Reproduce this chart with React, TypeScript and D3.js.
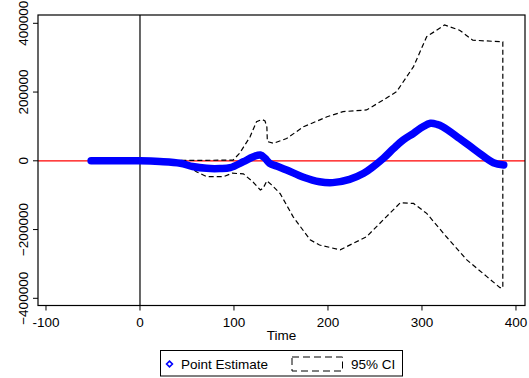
import React from "react";
import * as d3 from "d3";

const xTicks = [-100, 0, 100, 200, 300, 400];
const yTicks = [-400000, -200000, 0, 200000, 400000];

const peTime = [-52, 0, 21, 43, 56, 71, 85, 96, 110, 120, 128, 133, 138, 146, 156, 174, 191, 205, 223, 238, 248, 259, 270, 280, 291, 301, 309, 316, 322, 340, 359, 376, 387];
const peValue = [0, 0, -2000, -7000, -16500, -22000, -22500, -20000, -2600, 11000, 17000, 7300, -7300, -16000, -26800, -48000, -61000, -63500, -54000, -36400, -17200, 7300, 36400, 60500, 80000, 99200, 109000, 106000, 99000, 65000, 26500, -5500, -12000];

const upperTime = [44, 99, 106, 117, 124, 130, 133, 135, 135.5, 142, 156, 174, 199, 216, 241, 259, 273, 291, 305, 324, 340, 354, 386];
const upperValue = [1000, 2000, 22000, 69000, 114000, 120000, 116000, 98000, 56000, 51000, 65000, 99000, 128000, 143000, 148000, 177000, 201000, 274000, 361000, 395000, 380000, 351000, 346000];

const lowerTime = [44, 60, 71, 89, 98, 110, 120, 128, 131, 135, 140, 149, 163, 181, 191, 213, 241, 262, 277, 291, 305, 326, 348, 369, 383, 386];
const lowerValue = [-1000, -32000, -46000, -46000, -36000, -38000, -61000, -85000, -80000, -58000, -70000, -95000, -163000, -230000, -245000, -259000, -221000, -163000, -122000, -124000, -153000, -221000, -289000, -337000, -369000, -370000];

const legendLabels = ["Point Estimate", "95% CI"];
const xTitle = "Time";

const W = 529;
const H = 378;
const plot = { left: 38, right: 525, top: 15, bottom: 305.5 };
const font = "'Liberation Sans', Arial, Helvetica, sans-serif";
const fs = 13.5;

export default function App() {
  const x = d3.scaleLinear().domain([-108.5, 409.6]).range([plot.left, plot.right]);
  const y = d3.scaleLinear().domain([-420950, 424150]).range([plot.bottom, plot.top]);

  const pePts: [number, number][] = peTime.map((t, i) => [t, peValue[i]]);
  const ciPts: [number, number][] = [
    ...upperTime.map((t, i) => [t, upperValue[i]] as [number, number]),
    ...lowerTime.map((t, i) => [t, lowerValue[i]] as [number, number]).reverse(),
  ];

  const peLine = d3
    .line<[number, number]>()
    .x((d) => x(d[0]))
    .y((d) => y(d[1]))
    .curve(d3.curveCatmullRom.alpha(0.5));
  const ciLine = d3
    .line<[number, number]>()
    .x((d) => x(d[0]))
    .y((d) => y(d[1]));

  const diamond = d3.symbol().type(d3.symbolDiamond2).size(22)();

  return (
    <svg
      width={W}
      height={H}
      style={{ position: "absolute", left: 0, top: 0, background: "#fff" }}
      fontFamily={font}
    >
      <rect x={0} y={0} width={W} height={H} fill="#fff" />
      <line x1={plot.left} x2={plot.right} y1={y(0)} y2={y(0)} stroke="#ff0000" strokeWidth={1.3} />
      <line x1={x(0)} x2={x(0)} y1={plot.top} y2={plot.bottom} stroke="#000" strokeWidth={1.2} />
      <path d={ciLine(ciPts) || ""} fill="none" stroke="#000" strokeWidth={1.2} strokeDasharray="5,3" />
      <path
        d={peLine(pePts) || ""}
        fill="none"
        stroke="#0000ff"
        strokeWidth={7.5}
        strokeLinecap="round"
        strokeLinejoin="round"
      />
      <rect
        x={plot.left}
        y={plot.top}
        width={plot.right - plot.left}
        height={plot.bottom - plot.top}
        fill="none"
        stroke="#000"
        strokeWidth={1.2}
      />
      {yTicks.map((v) => (
        <g key={v}>
          <line x1={plot.left - 5} x2={plot.left} y1={y(v)} y2={y(v)} stroke="#000" strokeWidth={1} />
          <text
            transform={`translate(${plot.left - 10},${y(v)}) rotate(-90)`}
            textAnchor="middle"
            fontSize={fs}
            fill="#000"
          >
            {d3.format("d")(v)}
          </text>
        </g>
      ))}
      {xTicks.map((v) => (
        <g key={v}>
          <line x1={x(v)} x2={x(v)} y1={plot.bottom} y2={plot.bottom + 5} stroke="#000" strokeWidth={1} />
          <text x={x(v)} y={plot.bottom + 21} textAnchor="middle" fontSize={fs} fill="#000">
            {v}
          </text>
        </g>
      ))}
      <text x={(plot.left + plot.right) / 2} y={340} textAnchor="middle" fontSize={fs} fill="#000">
        {xTitle}
      </text>
      <rect x={160.5} y={350.5} width={242} height={25.5} fill="#fff" stroke="#000" strokeWidth={1} />
      <path d={diamond} transform="translate(169.5,364)" fill="none" stroke="#0000ff" strokeWidth={1.6} />
      <text x={181} y={369} fontSize={fs} fill="#000">
        {legendLabels[0]}
      </text>
      <rect x={292} y={357} width={50.5} height={14} fill="none" stroke="#000" strokeWidth={1} strokeDasharray="7,4" />
      <text x={351} y={369} fontSize={fs} fill="#000">
        {legendLabels[1]}
      </text>
    </svg>
  );
}
